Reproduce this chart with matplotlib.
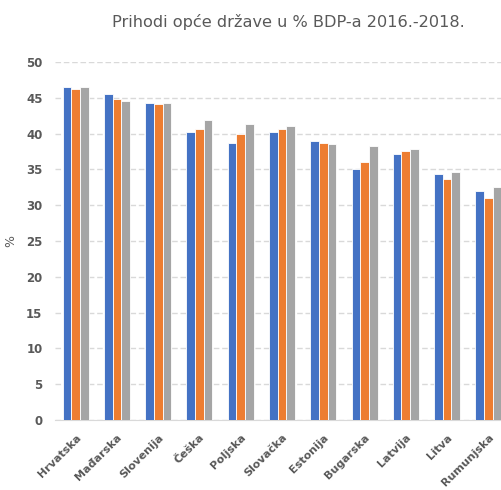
import numpy as np
import matplotlib.pyplot as plt

countries = ['Hrvatska', 'Mađarska', 'Slovenija', 'Češka', 'Poljska', 'Slovačka',
             'Estonija', 'Bugarska', 'Latvija', 'Litva', 'Rumunjska']
y2016 = [46.5, 45.5, 44.3, 40.2, 38.7, 40.2, 39.0, 35.1, 37.1, 34.4, 32.0]
y2017 = [46.2, 44.8, 44.1, 40.7, 40.0, 40.7, 38.7, 36.1, 37.6, 33.7, 31.0]
y2018 = [46.5, 44.5, 44.3, 41.9, 41.4, 41.0, 38.5, 38.3, 37.8, 34.7, 32.5]

fig = plt.figure(figsize=(5.01, 4.90), dpi=100)
# axes runs a bit past the right edge, like the original
ax = fig.add_axes([55 / 501, 70 / 490, 454 / 501, 358 / 490])

x = np.arange(len(countries))
w = 0.21
colors = ['#4472C4', '#ED7D31', '#A5A5A5']
for i, (vals, c) in enumerate(zip([y2016, y2017, y2018], colors)):
    ax.bar(x + (i - 1) * w, vals, width=w, color=c, edgecolor='white', linewidth=0.6, zorder=3)

ax.set_xlim(-0.5, len(countries) - 0.5)
ax.set_ylim(0, 50)
ax.set_yticks(range(0, 51, 5))
ax.yaxis.grid(True, color='#D9D9D9', linestyle=(0, (4, 2)), linewidth=1)
ax.set_axisbelow(True)
for s in ['top', 'right', 'left']:
    ax.spines[s].set_visible(False)
ax.spines['bottom'].set_color('#D9D9D9')
ax.tick_params(axis='both', length=0, colors='#595959')
ax.set_xticks(x)
ax.set_xticklabels(countries, rotation=45, ha='right', rotation_mode='anchor',
                   fontsize=8, fontweight='bold', color='#595959')
for lab in ax.get_yticklabels():
    lab.set_fontsize(8.5)
    lab.set_fontweight('bold')
ax.tick_params(axis='y', pad=9)
ax.tick_params(axis='x', pad=9)
ax.set_ylabel('%', fontsize=9, color='#595959')
ax.yaxis.set_label_coords(-38 / 454, 0.5)

fig.text(288 / 501, 1 - 22 / 490, 'Prihodi opće države u % BDP-a 2016.-2018.',
         ha='center', va='center', fontsize=11.6, color='#595959')

fig.savefig('out.png', dpi=100)
